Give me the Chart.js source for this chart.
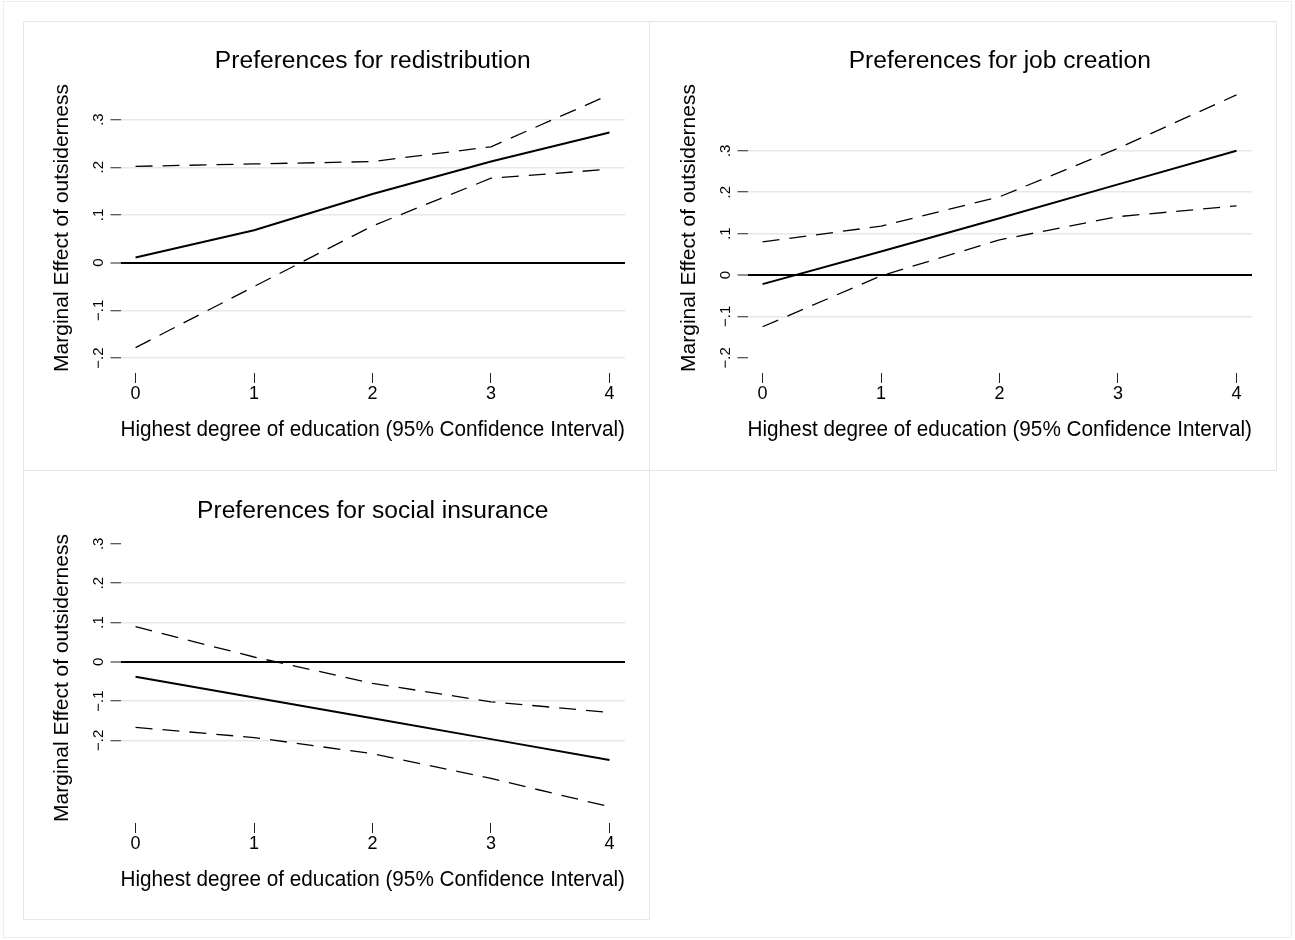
<!DOCTYPE html>
<html>
<head>
<meta charset="utf-8">
<title>Marginal effect of outsiderness by education</title>
<script src="https://cdn.jsdelivr.net/npm/chart.js@4.4.1/dist/chart.umd.min.js"></script>
<style>
  html, body { margin: 0; padding: 0; background: #fff; }
  body { width: 1295px; height: 940px; position: relative; overflow: hidden; }
  .frame { position: absolute; left: 3px; top: 1px; width: 1289px; height: 937px; border: 1px solid #ededed; box-sizing: border-box; }
  .box { position: absolute; border: 1px solid #e6e6e6; box-sizing: border-box; }
  canvas { position: absolute; }
</style>
</head>
<body>
<div class="frame"></div>
<div class="box" style="left:23px;top:21px;width:627px;height:450px"></div>
<div class="box" style="left:649px;top:21px;width:628px;height:450px"></div>
<div class="box" style="left:23px;top:470px;width:627px;height:450px"></div>
<canvas id="redistribution" width="627" height="448" style="left:23px;top:22px"></canvas>
<canvas id="jobs" width="627" height="448" style="left:650px;top:22px"></canvas>
<canvas id="insurance" width="627" height="448" style="left:23px;top:472px"></canvas>
<script>
// Education levels (x) and axis labels
const educationLevels = [0, 1, 2, 3, 4];
const yTickValues = [-0.2, -0.1, 0, 0.1, 0.2, 0.3];
const yTickLabels = ['\u2212.2', '\u2212.1', '0', '.1', '.2', '.3'];
const xAxisTitle = 'Highest degree of education (95% Confidence Interval)';
const yAxisTitle = 'Marginal Effect of outsiderness';

// Preferences for redistribution: marginal effect and 95% CI
const redisEffect = [0.011, 0.068, 0.144, 0.212, 0.273];
const redisLower  = [-0.178, -0.050, 0.077, 0.177, 0.196];
const redisUpper  = [0.202, 0.207, 0.212, 0.243, 0.352];

// Preferences for job creation
const jobsEffect = [-0.022, 0.057, 0.137, 0.219, 0.300];
const jobsLower  = [-0.125, -0.002, 0.085, 0.141, 0.167];
const jobsUpper  = [0.080, 0.118, 0.189, 0.306, 0.435];

// Preferences for social insurance
const insurEffect = [-0.038, -0.091, -0.144, -0.197, -0.250];
const insurLower  = [-0.167, -0.193, -0.234, -0.297, -0.369];
const insurUpper  = [0.089, 0.012, -0.055, -0.102, -0.129];

const FONT = '"Liberation Sans", Arial, Helvetica, sans-serif';
const points = ys => educationLevels.map((x, i) => ({ x, y: ys[i] }));

// Panel title (centred over the plot area), rotated y title and rotated y tick labels
const panelText = {
  id: 'panelText',
  afterDraw(chart, args, opts) {
    const s = chart.scales.y;
    const area = chart.chartArea;
    const ctx = chart.ctx;
    ctx.save();
    ctx.fillStyle = '#000';
    ctx.textAlign = 'center';
    ctx.textBaseline = 'middle';

    ctx.font = '24.6px ' + FONT;
    ctx.fillText(opts.title, (area.left + area.right) / 2, area.top - 28.5);

    ctx.font = '21px ' + FONT;
    ctx.save();
    ctx.translate(s.left + 39, (area.top + area.bottom) / 2 - 3.5);
    ctx.rotate(-Math.PI / 2);
    ctx.fillText(yAxisTitle, 0, 0);
    ctx.restore();

    ctx.font = '15px ' + FONT;
    s.ticks.forEach(t => {
      const idx = yTickValues.indexOf(t.value);
      ctx.save();
      ctx.translate(s.right - 22, s.getPixelForValue(t.value));
      ctx.rotate(-Math.PI / 2);
      ctx.fillText(yTickLabels[idx], 0, 0);
      ctx.restore();
    });
    ctx.restore();
  }
};

function panel(id, title, effect, lower, upper, yMin, yMax, noGrid) {
  const ciStyle = { borderColor: '#000', borderWidth: 1.3, borderDash: [17, 10], pointRadius: 0, fill: false, tension: 0 };
  new Chart(document.getElementById(id), {
    type: 'line',
    data: {
      datasets: [
        Object.assign({ label: 'Upper 95% CI', data: points(upper) }, ciStyle),
        Object.assign({ label: 'Lower 95% CI', data: points(lower) }, ciStyle),
        { label: 'Marginal effect', data: points(effect), borderColor: '#000', borderWidth: 2, pointRadius: 0, fill: false, tension: 0 }
      ]
    },
    options: {
      responsive: false,
      animation: false,
      layout: { padding: { left: 0, right: 25, top: 68, bottom: 0 } },
      plugins: {
        legend: { display: false },
        tooltip: { enabled: false },
        title: { display: false },
        panelText: { title }
      },
      scales: {
        x: {
          type: 'linear', min: -0.127, max: 4.131,
          afterBuildTicks: s => { s.ticks = educationLevels.map(v => ({ value: v })); },
          afterFit: s => { s.height = 97; },
          border: { display: false },
          grid: { drawOnChartArea: false, drawTicks: true, tickLength: 10, tickColor: '#222', tickWidth: 1 },
          ticks: { color: '#000', font: { family: FONT, size: 18 }, padding: 0.5, maxRotation: 0, autoSkip: false },
          title: {
            display: true, text: xAxisTitle, color: '#000',
            font: { family: FONT, size: 21.7, lineHeight: 1.2 }, padding: { top: 0, bottom: 27 }
          }
        },
        y: {
          type: 'linear', min: yMin, max: yMax,
          afterBuildTicks: s => { s.ticks = yTickValues.map(v => ({ value: v })); },
          afterFit: s => { s.width = 97.5; },
          border: { display: false },
          ticks: { display: false },
          grid: {
            drawTicks: true, tickLength: 10, tickColor: '#222', tickWidth: 1,
            color: c => c.tick.value === 0 ? '#000' : (noGrid.includes(c.tick.value) ? 'rgba(0,0,0,0)' : '#e8e8e8'),
            lineWidth: c => c.tick.value === 0 ? 2 : 1.5
          },
          title: { display: false }
        }
      }
    },
    plugins: [panelText]
  });
}

panel('redistribution', 'Preferences for redistribution', redisEffect, redisLower, redisUpper, -0.2312, 0.362, []);
panel('jobs', 'Preferences for job creation', jobsEffect, jobsLower, jobsUpper, -0.2367, 0.4469, [-0.2]);
panel('insurance', 'Preferences for social insurance', insurEffect, insurLower, insurUpper, -0.4104, 0.3097, [0.3]);
</script>
</body>
</html>
